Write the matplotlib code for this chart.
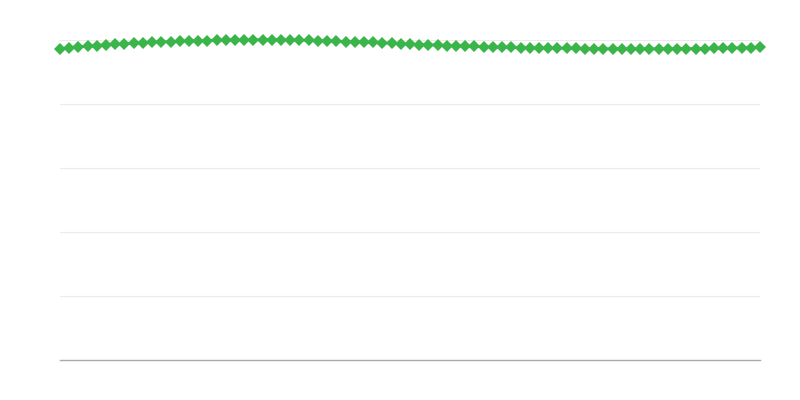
import numpy as np
import matplotlib
matplotlib.use('Agg')
from matplotlib import pyplot as plt

# valores (escala 0-100)
valores = [
    97.28, 97.56, 97.81, 98.03, 98.25, 98.44, 98.63, 98.81, 98.97, 99.13,
    99.25, 99.38, 99.50, 99.59, 99.69, 99.78, 99.84, 99.91, 99.97, 100.00,
    100.03, 100.06, 100.06, 100.06, 100.03, 100.00, 99.94, 99.88, 99.81, 99.72,
    99.63, 99.53, 99.44, 99.34, 99.22, 99.09, 98.97, 98.84, 98.72, 98.59,
    98.50, 98.38, 98.28, 98.19, 98.09, 98.00, 97.91, 97.81, 97.75, 97.69,
    97.63, 97.56, 97.50, 97.47, 97.44, 97.41, 97.38, 97.34, 97.31, 97.28,
    97.28, 97.25, 97.25, 97.25, 97.25, 97.25, 97.25, 97.28, 97.28, 97.31,
    97.34, 97.38, 97.44, 97.50, 97.56, 97.63, 97.69,
]
grade_y = [0, 20, 40, 60, 80, 100]

x = np.arange(len(valores))

fig = plt.figure(figsize=(8, 4), dpi=100)
ax = fig.add_axes([0.075, 0.1, 0.875, 0.8])

for g in grade_y[1:]:
    ax.axhline(g, color='#ebebeb', linewidth=0.8, zorder=1)

ax.plot(x, valores, color='#3ab54a', linewidth=2, marker='D', markersize=6,
        markeredgewidth=0, clip_on=False, zorder=3)

ax.set_xlim(0, len(valores) - 1)
ax.set_ylim(0, 100)
ax.set_xticks([])
ax.set_yticks([])
for lado in ['top', 'right', 'left']:
    ax.spines[lado].set_visible(False)
ax.spines['bottom'].set_color('#aaaaaa')
ax.spines['bottom'].set_linewidth(1)

fig.savefig('out.png')
